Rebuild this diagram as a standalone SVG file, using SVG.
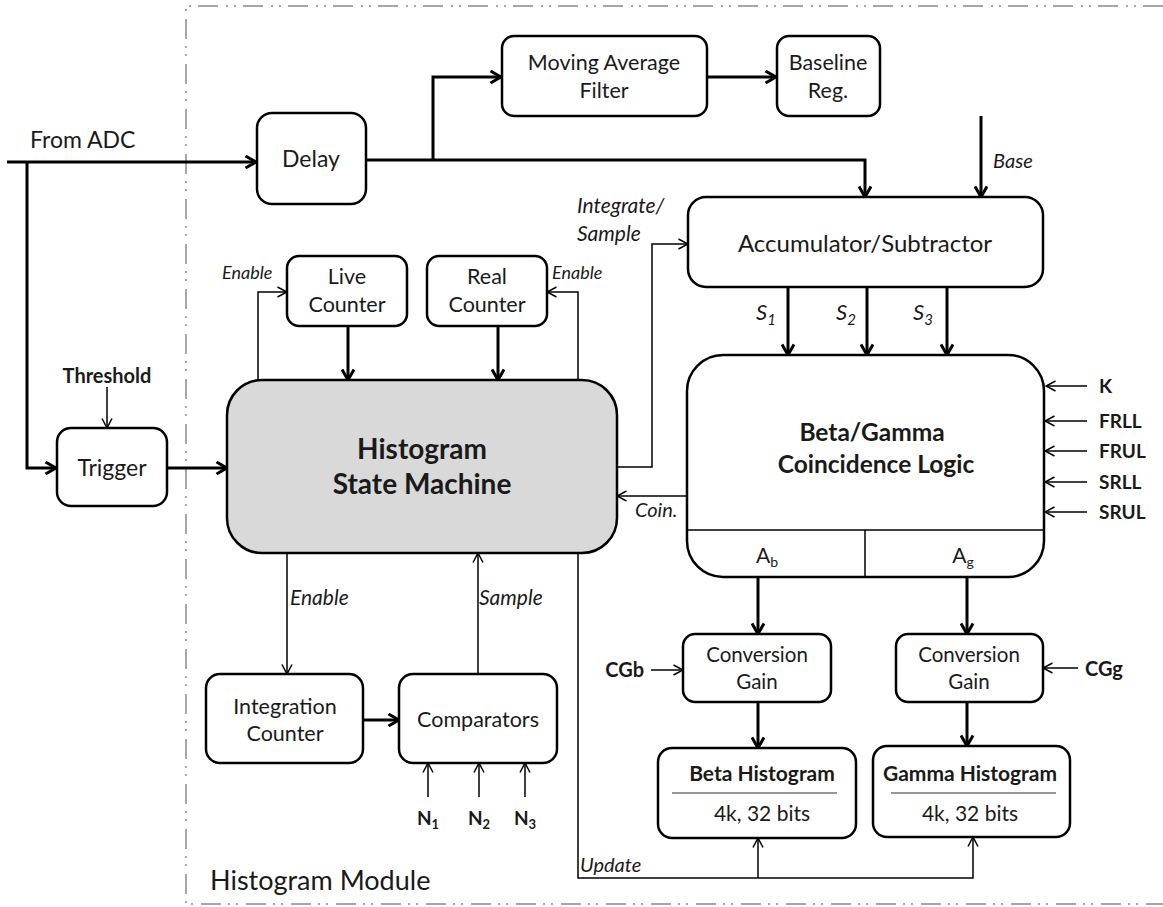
<svg xmlns="http://www.w3.org/2000/svg" width="1163" height="907" viewBox="0 0 1163 907">
<style>
.box{fill:#fff;stroke:#000;stroke-width:2.5}
.sm{fill:#d9d9d9;stroke:#000;stroke-width:2.5}
.thk{fill:none;stroke:#000;stroke-width:3}
.thn{fill:none;stroke:#000;stroke-width:1.5}
.t{font-family:Lato,"Liberation Sans",sans-serif;fill:#1a1a1a;text-anchor:middle}
.r{font-family:Lato,"Liberation Sans",sans-serif;fill:#1a1a1a}
.i{font-family:Lato,"Liberation Sans",sans-serif;font-style:italic;fill:#1a1a1a}
.b{font-family:Lato,"Liberation Sans",sans-serif;font-weight:bold;fill:#1a1a1a}
.border{fill:none;stroke:#a6a6a6;stroke-width:2;stroke-dasharray:20 7 2 6 2 8}
</style>
<defs>
<marker id="ak" viewBox="0 0 14 14" markerWidth="14" markerHeight="14" refX="12.5" refY="7" orient="auto" markerUnits="userSpaceOnUse"><path d="M2,1 L12.5,7 L2,13" fill="none" stroke="#000" stroke-width="3"/></marker>
<marker id="at" viewBox="0 0 12 12" markerWidth="12" markerHeight="12" refX="11" refY="6" orient="auto" markerUnits="userSpaceOnUse"><path d="M1.5,1 L11,6 L1.5,11" fill="none" stroke="#000" stroke-width="1.5"/></marker>
</defs>
<rect width="1163" height="907" fill="#fff"/>
<path class="border" d="M1163,6 H186 V904 H1163"/>
<text class="r" x="210" y="890" font-size="27">Histogram Module</text>

<g id="connectors">
<path class="thk" d="M7,162 H256" marker-end="url(#ak)"/>
<path class="thk" d="M27,162 V468 H56" marker-end="url(#ak)"/>
<path class="thk" d="M366,160 H865 V197" marker-end="url(#ak)"/>
<path class="thk" d="M433,160 V77 H501" marker-end="url(#ak)"/>
<path class="thk" d="M707,77 H776" marker-end="url(#ak)"/>
<path class="thk" d="M981,116 V197" marker-end="url(#ak)"/>
<path class="thk" d="M348,326 V380" marker-end="url(#ak)"/>
<path class="thk" d="M498,326 V380" marker-end="url(#ak)"/>
<path class="thk" d="M167,468 H227" marker-end="url(#ak)"/>
<path class="thk" d="M788,287 V355" marker-end="url(#ak)"/>
<path class="thk" d="M867,287 V355" marker-end="url(#ak)"/>
<path class="thk" d="M947,287 V355" marker-end="url(#ak)"/>
<path class="thk" d="M758,577 V634" marker-end="url(#ak)"/>
<path class="thk" d="M967,577 V634" marker-end="url(#ak)"/>
<path class="thk" d="M758,702 V748" marker-end="url(#ak)"/>
<path class="thk" d="M967,702 V746" marker-end="url(#ak)"/>
<path class="thk" d="M363,720 H399" marker-end="url(#ak)"/>
<path class="thn" d="M107,387 V428" marker-end="url(#at)"/>
<path class="thn" d="M258,380 V292 H287" marker-end="url(#at)"/>
<path class="thn" d="M578,380 V292 H547" marker-end="url(#at)"/>
<path class="thn" d="M617,467 H652 V244 H688" marker-end="url(#at)"/>
<path class="thn" d="M687,496 H617" marker-end="url(#at)"/>
<path class="thn" d="M287,553 V674" marker-end="url(#at)"/>
<path class="thn" d="M478,674 V553" marker-end="url(#at)"/>
<path class="thn" d="M428,797 V763" marker-end="url(#at)"/>
<path class="thn" d="M479,797 V763" marker-end="url(#at)"/>
<path class="thn" d="M525,797 V763" marker-end="url(#at)"/>
<path class="thn" d="M578,553 V878 H973 V837" marker-end="url(#at)"/>
<path class="thn" d="M758,878 V838" marker-end="url(#at)"/>
<path class="thn" d="M651,670 H683" marker-end="url(#at)"/>
<path class="thn" d="M1078,668 H1043" marker-end="url(#at)"/>
<path class="thn" d="M1087,386 H1046" marker-end="url(#at)"/>
<path class="thn" d="M1087,421 H1045" marker-end="url(#at)"/>
<path class="thn" d="M1087,451 H1045" marker-end="url(#at)"/>
<path class="thn" d="M1087,482 H1045" marker-end="url(#at)"/>
<path class="thn" d="M1087,512 H1045" marker-end="url(#at)"/>
</g>

<g id="labels">
<text class="r" x="30" y="148" font-size="23">From ADC</text>
<text class="i" x="993" y="168" font-size="20">Base</text>
<text class="i" x="577" y="213" font-size="21">Integrate/</text>
<text class="i" x="577" y="241" font-size="21">Sample</text>
<text class="i" x="756" y="320" font-size="22">S<tspan font-size="15" dy="5">1</tspan></text>
<text class="i" x="836" y="320" font-size="22">S<tspan font-size="15" dy="5">2</tspan></text>
<text class="i" x="913" y="320" font-size="22">S<tspan font-size="15" dy="5">3</tspan></text>
<text class="i" x="222" y="279" font-size="18">Enable</text>
<text class="i" x="552" y="279" font-size="18">Enable</text>
<text class="i" x="635" y="517" font-size="20">Coin.</text>
<text class="i" x="290" y="605" font-size="21">Enable</text>
<text class="i" x="479" y="605" font-size="21">Sample</text>
<text class="i" x="580" y="872" font-size="20">Update</text>
<text class="b" x="107" y="383" font-size="20" text-anchor="middle">Threshold</text>
<text class="b" x="1099" y="393" font-size="19">K</text>
<text class="b" x="1099" y="428" font-size="19">FRLL</text>
<text class="b" x="1099" y="458" font-size="19">FRUL</text>
<text class="b" x="1099" y="489" font-size="19">SRLL</text>
<text class="b" x="1099" y="519" font-size="19">SRUL</text>
<text class="b" x="644" y="677" font-size="20" text-anchor="end">CGb</text>
<text class="b" x="1085" y="676" font-size="20">CGg</text>
<text class="b" x="428" y="825" font-size="19" text-anchor="middle">N<tspan font-size="13" dy="4">1</tspan></text>
<text class="b" x="479" y="825" font-size="19" text-anchor="middle">N<tspan font-size="13" dy="4">2</tspan></text>
<text class="b" x="525" y="825" font-size="19" text-anchor="middle">N<tspan font-size="13" dy="4">3</tspan></text>
</g>

<g id="delay"><rect class="box" x="257" y="113" width="109" height="91" rx="15"/><text class="t" x="311" y="167" font-size="23">Delay</text></g>
<g id="moving-average"><rect class="box" x="502" y="36" width="205" height="80" rx="12"/><text class="t" x="604" y="70" font-size="21.5">Moving Average</text><text class="t" x="604" y="98" font-size="21.5">Filter</text></g>
<g id="baseline-reg"><rect class="box" x="777" y="36" width="103" height="80" rx="12"/><text class="t" x="828" y="70" font-size="21.5">Baseline</text><text class="t" x="828" y="98" font-size="21.5">Reg.</text></g>
<g id="accumulator"><rect class="box" x="688" y="197" width="355" height="90" rx="18"/><text class="t" x="865" y="252" font-size="24">Accumulator/Subtractor</text></g>
<g id="live-counter"><rect class="box" x="287" y="256" width="120" height="70" rx="12"/><text class="t" x="347" y="284" font-size="21.5">Live</text><text class="t" x="347" y="312" font-size="21.5">Counter</text></g>
<g id="real-counter"><rect class="box" x="427" y="256" width="120" height="70" rx="12"/><text class="t" x="487" y="284" font-size="21.5">Real</text><text class="t" x="487" y="312" font-size="21.5">Counter</text></g>
<g id="trigger"><rect class="box" x="57" y="428" width="110" height="78" rx="14"/><text class="t" x="112" y="476" font-size="23">Trigger</text></g>
<g id="state-machine"><rect class="sm" x="227" y="380" width="390" height="173" rx="35"/><text class="t" x="422" y="459" font-size="28" font-weight="bold">Histogram</text><text class="t" x="422" y="494" font-size="28" font-weight="bold">State Machine</text></g>
<g id="coincidence"><rect class="box" x="687" y="355" width="357" height="222" rx="36"/><path d="M687,530 H1044 M865,530 V577" stroke="#000" stroke-width="1.5" fill="none"/><text class="t" x="872" y="441" font-size="24.5" font-weight="bold">Beta/Gamma</text><text class="t" x="876" y="473" font-size="24.5" font-weight="bold">Coincidence Logic</text><text class="t" x="767" y="563" font-size="21">A<tspan font-size="14" dy="4">b</tspan></text><text class="t" x="963" y="563" font-size="21">A<tspan font-size="14" dy="4">g</tspan></text></g>
<g id="conv-gain-b"><rect class="box" x="683" y="634" width="148" height="68" rx="12"/><text class="t" x="757" y="662" font-size="20.5">Conversion</text><text class="t" x="757" y="689" font-size="20.5">Gain</text></g>
<g id="conv-gain-g"><rect class="box" x="896" y="634" width="147" height="68" rx="12"/><text class="t" x="969" y="662" font-size="20.5">Conversion</text><text class="t" x="969" y="689" font-size="20.5">Gain</text></g>
<g id="beta-histogram"><rect class="box" x="658" y="748" width="198" height="90" rx="14"/><text class="t" x="762" y="781" font-size="21" font-weight="bold">Beta Histogram</text><path d="M672,793 H837" stroke="#333" stroke-width="1.2"/><text class="t" x="762" y="821" font-size="21">4k, 32 bits</text></g>
<g id="gamma-histogram"><rect class="box" x="873" y="746" width="197" height="91" rx="14"/><text class="t" x="970" y="781" font-size="21" font-weight="bold">Gamma Histogram</text><path d="M891,793 H1056" stroke="#333" stroke-width="1.2"/><text class="t" x="970" y="821" font-size="21">4k, 32 bits</text></g>
<g id="integration-counter"><rect class="box" x="206" y="674" width="157" height="89" rx="14"/><text class="t" x="285" y="714" font-size="21.5">Integration</text><text class="t" x="285" y="741" font-size="21.5">Counter</text></g>
<g id="comparators"><rect class="box" x="399" y="674" width="158" height="89" rx="14"/><text class="t" x="478" y="727" font-size="21.5">Comparators</text></g>
</svg>
